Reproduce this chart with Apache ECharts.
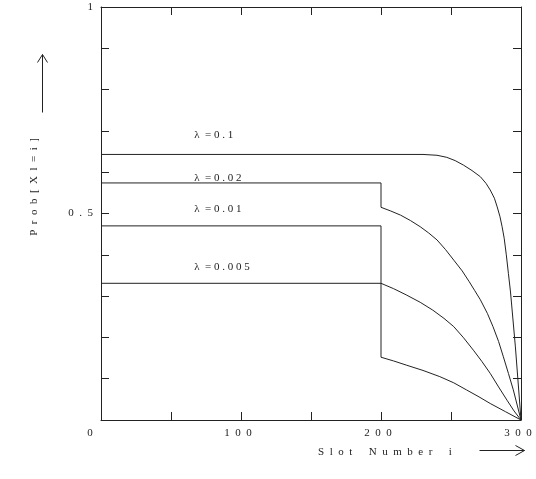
<!DOCTYPE html>
<html>
<head>
<meta charset="utf-8">
<title>Prob[Xl=i]</title>
<script src="https://cdn.jsdelivr.net/npm/echarts@6/dist/echarts.min.js"></script>
</head>
<body style="margin:0;background:#fff;">
<div id="main" style="width:536px;height:479px;"></div>
<script type="text/javascript">
// slot number i vs Prob[Xl=i], one curve per lambda
var curve01 = [[0, 0.643], [230, 0.643], [240, 0.641], [247, 0.636], [253, 0.628], [259, 0.617],
    [265, 0.604], [271, 0.589], [275, 0.573], [278, 0.557], [281, 0.537], [283, 0.516], [285, 0.492],
    [286.5, 0.468], [288, 0.44], [289.5, 0.40], [291, 0.355], [292.5, 0.31], [296, 0.177], [300, 0]];
var curve002 = [[0, 0.574], [200, 0.574], [200, 0.515], [207, 0.506], [214, 0.496], [221, 0.483],
    [228, 0.468], [234, 0.453], [240, 0.436], [246, 0.413], [252, 0.387], [258, 0.361], [263, 0.335],
    [267, 0.313], [271, 0.291], [276, 0.258], [280, 0.226], [284, 0.19], [287.4, 0.153], [291, 0.113],
    [294.5, 0.073], [300, 0]];
var curve001 = [[0, 0.470], [200, 0.470], [200, 0.331], [209, 0.318], [218, 0.303], [228, 0.285],
    [237, 0.266], [245, 0.246], [252, 0.226], [259, 0.199], [266, 0.169], [272, 0.142], [278, 0.113],
    [284, 0.08], [290, 0.048], [295, 0.022], [300, 0]];
var curve0005 = [[0, 0.331], [200, 0.331], [200, 0.152], [209, 0.143], [218, 0.133], [230, 0.12],
    [242, 0.105], [252, 0.09], [261, 0.073], [270, 0.056], [278, 0.04], [289, 0.02], [300, 0]];
var lambdaNames = ['λ =0.1', 'λ =0.02', 'λ =0.01', 'λ =0.005'];
var xTickLabels = {0: '0', 100: '1  0  0', 200: '2  0  0', 300: '3  0  0'};
var yTickLabels = {1: '1', 0.5: '0  .  5'};

var font = 'Liberation Serif';
var ink = '#222';

function spaced(s, gap) {
    return s.split('').join(gap || ' ');
}

// where the lambda captions sit (data coords)
var captionAt = [[63, 0.69], [63, 0.585], [63, 0.51], [63, 0.37]];

function lineSeries(name, data, k) {
    return {
        name: name,
        type: 'line',
        data: data,
        symbol: 'none',
        lineStyle: { color: ink, width: 1 },
        markPoint: {
            symbol: 'circle',
            symbolSize: 0,
            label: {
                show: true,
                formatter: spaced(name.replace(' ', '')).replace('λ =', 'λ  ='),
                position: 'right',
                color: ink,
                fontFamily: font,
                fontSize: 11
            },
            data: [{ coord: captionAt[k] }]
        }
    };
}

var myChart = echarts.init(document.getElementById('main'));

var axisBase = {
    type: 'value',
    axisLine: { show: true, onZero: false, lineStyle: { color: ink, width: 1 } },
    axisTick: { show: true, inside: true, length: 8, lineStyle: { color: ink } },
    splitLine: { show: false }
};

var option = {
    animation: false,
    backgroundColor: '#fff',
    grid: { left: 101, right: 15, top: 7, bottom: 59 },
    xAxis: [
        Object.assign({}, axisBase, {
            position: 'bottom', min: 0, max: 300, interval: 50,
            axisLabel: {
                color: ink, fontFamily: font, fontSize: 11, margin: 8,
                formatter: function (v) {
                    if (v === 0) return '{z|0}';
                    return xTickLabels[v] ? xTickLabels[v] : '';
                },
                padding: [0, 6, 0, 0],
                rich: { z: { padding: [0, 16, 0, 0], fontFamily: font, fontSize: 11, color: ink } }
            },
            name: spaced('Slot', '  ') + '      ' + spaced('Number', '  ') + '      i',
            nameLocation: 'middle', nameGap: 27,
            nameTextStyle: { color: ink, fontFamily: font, fontSize: 11, padding: [0, 0, 0, 148] }
        }),
        Object.assign({}, axisBase, {
            position: 'top', min: 0, max: 300, interval: 50,
            axisLabel: { show: false }
        })
    ],
    yAxis: [
        Object.assign({}, axisBase, {
            position: 'left', min: 0, max: 1, interval: 0.1,
            axisLabel: {
                color: ink, fontFamily: font, fontSize: 11, margin: 8,
                formatter: function (v) {
                    var key = Math.round(v * 10) / 10;
                    return yTickLabels[key] ? yTickLabels[key] : '';
                }
            }
        }),
        Object.assign({}, axisBase, {
            position: 'right', min: 0, max: 1, interval: 0.1,
            axisLabel: { show: false }
        })
    ],
    graphic: [
        {
            type: 'text', left: 29, top: 138,
            rotation: Math.PI / 2,
            style: {
                text: spaced('Prob[Xl=i]', '  '),
                fill: ink, font: '11px "' + font + '"'
            }
        },
        {
            type: 'group', left: 35, top: 52,
            children: [
                { type: 'line', shape: { x1: 5, y1: 0, x2: 5, y2: 58 }, style: { stroke: ink, lineWidth: 1 } },
                { type: 'polyline', shape: { points: [[0, 8], [5, 0], [10, 8]] }, style: { stroke: ink, lineWidth: 1, fill: null } }
            ]
        },
        {
            type: 'group', left: 477, top: 443,
            children: [
                { type: 'line', shape: { x1: 0, y1: 5, x2: 45, y2: 5 }, style: { stroke: ink, lineWidth: 1 } },
                { type: 'polyline', shape: { points: [[36, 0], [45, 5], [36, 10]] }, style: { stroke: ink, lineWidth: 1, fill: null } }
            ]
        }
    ],
    series: [
        lineSeries(lambdaNames[0], curve01, 0),
        lineSeries(lambdaNames[1], curve002, 1),
        lineSeries(lambdaNames[2], curve001, 2),
        lineSeries(lambdaNames[3], curve0005, 3)
    ]
};
myChart.setOption(option);
</script>
</body>
</html>
